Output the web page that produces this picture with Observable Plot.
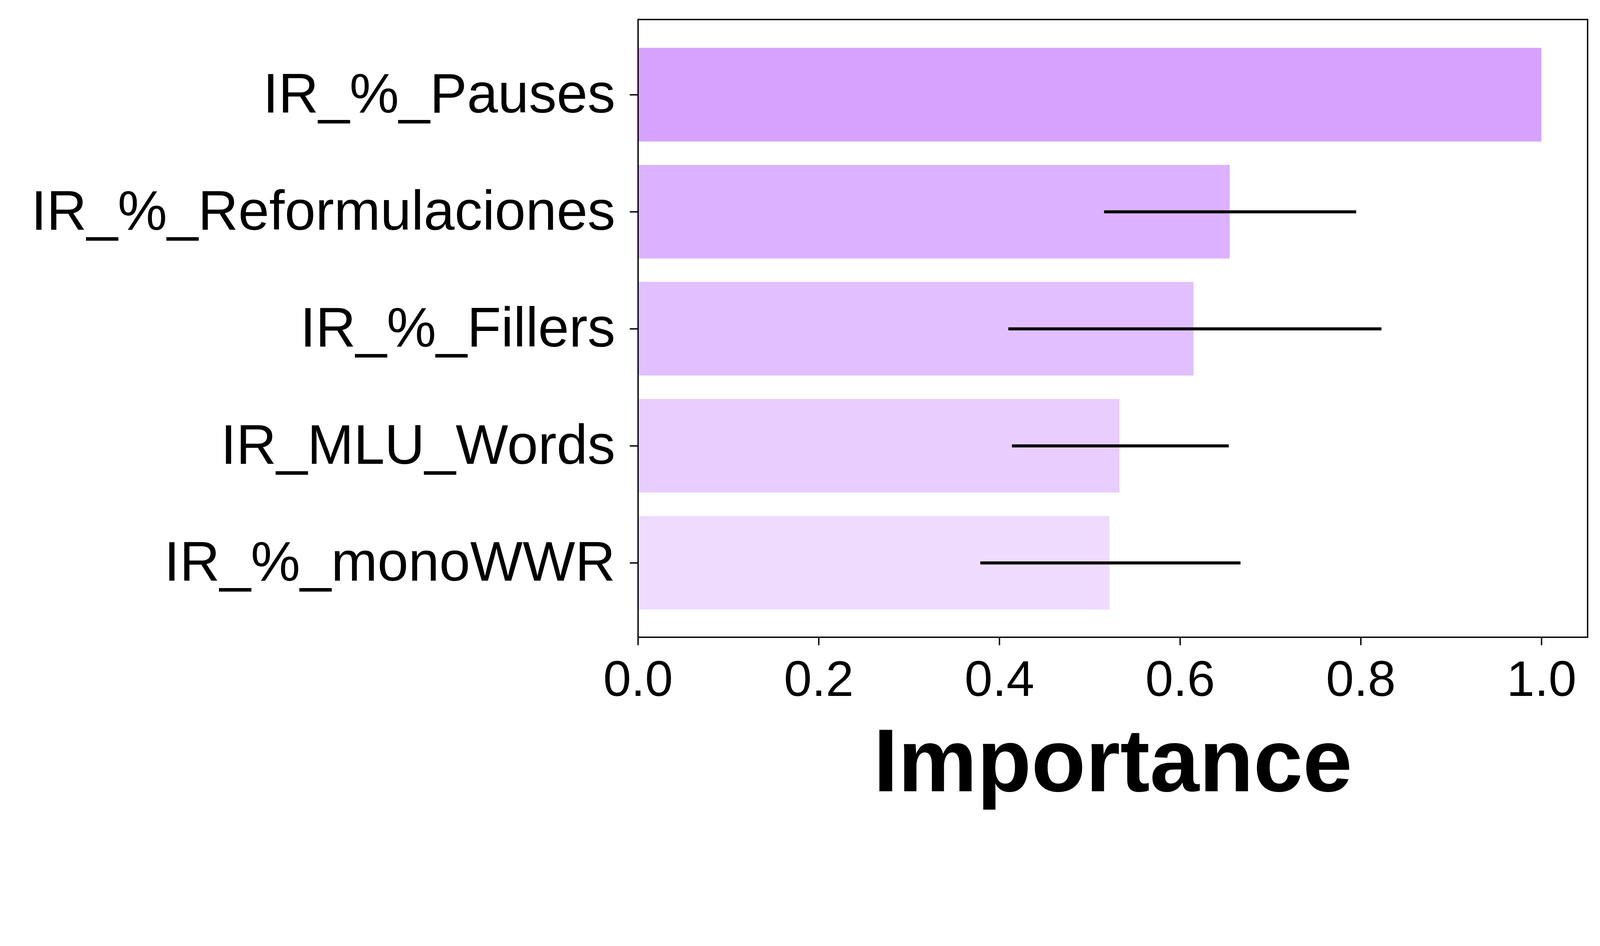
<!DOCTYPE html>
<html>
<head>
<meta charset="utf-8">
<script src="https://cdn.jsdelivr.net/npm/d3@7"></script>
<script src="https://cdn.jsdelivr.net/npm/@observablehq/plot@0.6"></script>
<style>
  body { margin: 0; background: #fff; }
</style>
</head>
<body>
<div id="chart"></div>
<script>
const features = ["IR_%_Pauses", "IR_%_Reformulaciones", "IR_%_Fillers", "IR_MLU_Words", "IR_%_monoWWR"];
const importance = [1.0, 0.655, 0.615, 0.533, 0.522];
const errLow = [null, 0.516, 0.410, 0.414, 0.379];
const errHigh = [null, 0.795, 0.823, 0.654, 0.667];
const colors = ["#d7a2fe", "#dcb1fe", "#e2bffe", "#e8cdfe", "#eedbfe"];
const xTicks = [0, 0.2, 0.4, 0.6, 0.8, 1.0];

const bars = features.map((f, i) => ({feature: f, value: importance[i], color: colors[i]}));
const errs = features.map((f, i) => ({feature: f, lo: errLow[i], hi: errHigh[i]})).filter(d => d.lo != null);

const chart = Plot.plot({
  width: 4718,
  height: 2421,
  marginLeft: 1881,
  marginRight: 37,
  marginTop: 57,
  marginBottom: 543,
  style: {fontFamily: "Liberation Sans, Arial, sans-serif", background: "#fff"},
  x: {domain: [0, 1.051], ticks: xTicks, tickFormat: d3.format(".1f")},
  y: {domain: features, range: [105, 1833], paddingInner: 0.2, paddingOuter: 0.1},
  marks: [
    Plot.barX(bars, {x: "value", y: "feature", fill: "color"}),
    Plot.ruleY(errs, {x1: "lo", x2: "hi", y: "feature", stroke: "#000", strokeWidth: 9}),
    Plot.frame({stroke: "#000", strokeWidth: 4}),
    Plot.axisX({ticks: xTicks, tickFormat: d3.format(".1f"), tickSize: 24, tickPadding: 44, fontSize: 148, label: null, strokeWidth: 4}),
    Plot.axisY({tickSize: 24, tickPadding: 43, fontSize: 164, label: null, strokeWidth: 4}),
    Plot.text(["Importance"], {frameAnchor: "bottom", lineAnchor: "middle", dy: 370, text: d => d, fontSize: 262, fontWeight: "bold", fill: "#000"})
  ]
});

d3.select("#chart").append(() => chart);
</script>
</body>
</html>
